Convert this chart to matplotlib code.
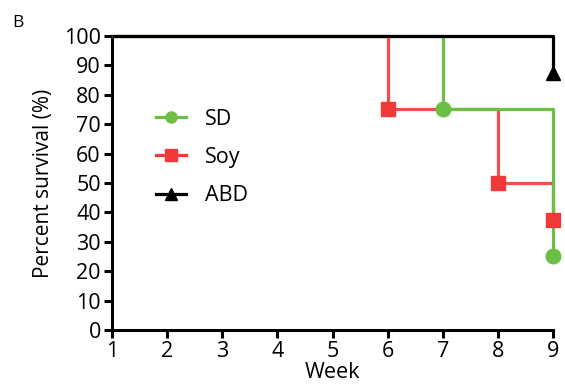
import matplotlib
matplotlib.use("Agg")
import matplotlib.pyplot as plt
from matplotlib.lines import Line2D

plt.rcParams['font.family'] = ['Open Sans', 'DejaVu Sans']

# Survival data (step functions)
sd_weeks = [1, 7, 7, 9, 9]
sd_surv = [100, 100, 75, 75, 25]
sd_marks_x = [7, 9]
sd_marks_y = [75, 25]

soy_weeks = [1, 6, 6, 8, 8, 9, 9]
soy_surv = [100, 100, 75, 75, 50, 50, 37.5]
soy_marks_x = [6, 8, 9]
soy_marks_y = [75, 50, 37.5]

abd_weeks = [1, 9, 9]
abd_surv = [100, 100, 87.5]
abd_marks_x = [9]
abd_marks_y = [87.5]

labels = ['SD', 'Soy', 'ABD']

green = '#6cbf45'
red = '#f03a3a'
black = '#000000'

fig = plt.figure(figsize=(5.65, 3.86), dpi=100)
ax = fig.add_axes([0.198, 0.145, 0.781, 0.762])

lw = 2.3
ax.plot(soy_weeks, soy_surv, color=red, lw=lw, alpha=0.9, solid_capstyle='butt', zorder=2, clip_on=False)
ax.plot(sd_weeks, sd_surv, color=green, lw=lw, solid_capstyle='butt', zorder=3, clip_on=False)
ax.plot(abd_weeks, abd_surv, color=black, lw=lw, solid_capstyle='butt', zorder=4, clip_on=False)

ax.plot(sd_marks_x, sd_marks_y, 'o', color=green, ms=10.5, zorder=5, clip_on=False)
ax.plot(soy_marks_x, soy_marks_y, 's', color=red, ms=10.5, zorder=6, clip_on=False)
ax.plot(abd_marks_x, abd_marks_y, '^', color=black, ms=10.5, zorder=6, clip_on=False)

ax.set_xlim(1, 9)
ax.set_ylim(0, 100)
ax.set_xticks(range(1, 10))
ax.set_yticks(range(0, 101, 10))
for s in ['top', 'right']:
    ax.spines[s].set_visible(False)
for s in ['left', 'bottom']:
    ax.spines[s].set_linewidth(2.2)
ax.tick_params(direction='out', length=6, width=2.2, labelsize=15.5, pad=2)

ax.set_xlabel('Week', fontsize=15.5, labelpad=0)
ax.set_ylabel('Percent survival (%)', fontsize=15, labelpad=7)

handles = [
    Line2D([], [], color=green, lw=lw, marker='o', ms=8),
    Line2D([], [], color=red, lw=lw, marker='s', ms=8),
    Line2D([], [], color=black, lw=lw, marker='^', ms=8),
]
ax.legend(handles, labels, loc='upper left', bbox_to_anchor=(0.055, 0.818),
          frameon=False, fontsize=15.5, handlelength=1.4, labelspacing=0.8, handletextpad=0.9)

fig.text(0.022, 0.93, 'B', fontsize=12.5)

fig.savefig('out.png', dpi=100)
